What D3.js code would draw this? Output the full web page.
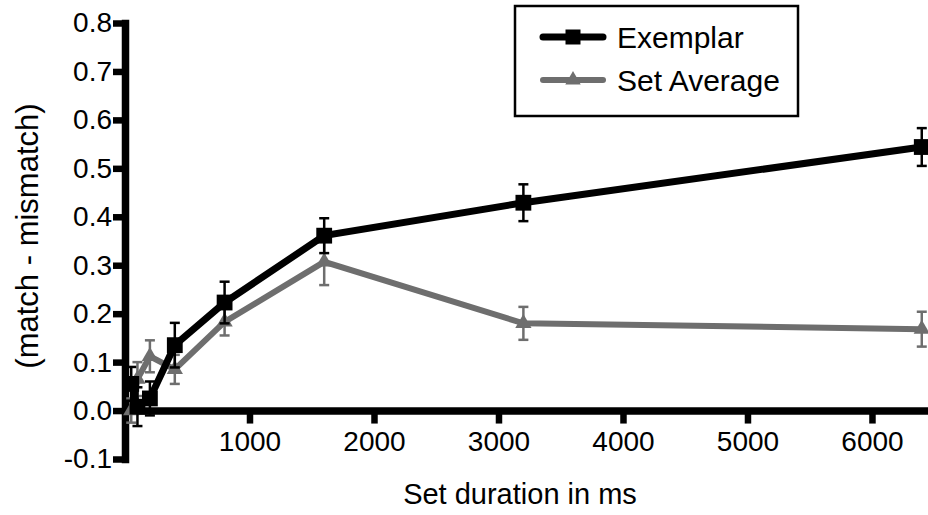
<!DOCTYPE html>
<html>
<head>
<meta charset="utf-8">
<script src="https://cdn.jsdelivr.net/npm/d3@7"></script>
<style>
  html, body { margin: 0; padding: 0; background: #fff; }
  svg { display: block; font-family: "Liberation Sans", Arial, Helvetica, sans-serif; }
</style>
</head>
<body>
<svg id="chart" width="928" height="515"></svg>
<script>
// ---- data ----
const durations = [50, 100, 200, 400, 800, 1600, 3200, 6400];
const exemplarMean = [0.055, 0.008, 0.025, 0.135, 0.223, 0.361, 0.429, 0.544];
const exemplarErr  = [0.035, 0.040, 0.035, 0.046, 0.043, 0.036, 0.038, 0.039];
const setAvgMean   = [0.000, 0.065, 0.112, 0.085, 0.183, 0.307, 0.180, 0.168];
const setAvgErr    = [0.025, 0.035, 0.033, 0.030, 0.028, 0.048, 0.034, 0.036];
const seriesNames  = ["Exemplar", "Set Average"];
const yTickValues  = [-0.1, 0.0, 0.1, 0.2, 0.3, 0.4, 0.5, 0.6, 0.7, 0.8];
const yTickLabels  = ["-0.1", "0.0", "0.1", "0.2", "0.3", "0.4", "0.5", "0.6", "0.7", "0.8"];
const xTickValues  = [1000, 2000, 3000, 4000, 5000, 6000];
const xTitle = "Set duration in ms";
const yTitle = "(match - mismatch)";

const svg = d3.select("#chart");
const x = d3.scaleLinear().domain([0, 6450]).range([125, 928]);
const y = d3.scaleLinear().domain([-0.1, 0.8]).range([459, 23]);

// ---- axes ----
const yAxis = d3.axisLeft(y).tickValues(yTickValues)
  .tickFormat((d, i) => yTickLabels[i]).tickSize(12).tickSizeOuter(0).tickPadding(1);
const gy = svg.append("g").attr("transform", `translate(${x(0)},0)`).call(yAxis);
gy.select(".domain").attr("stroke", "#000").attr("stroke-width", 7.5).attr("stroke-linecap", "square");
gy.selectAll(".tick line").attr("stroke", "#000").attr("stroke-width", 6.5);
gy.selectAll(".tick text").attr("font-size", 28).attr("fill", "#000")
  .attr("font-family", "Liberation Sans, Arial, sans-serif");

const xAxis = d3.axisBottom(x).tickValues(xTickValues).tickFormat(d3.format("d"))
  .tickSize(13).tickSizeOuter(0).tickPadding(8);
const gx = svg.append("g").attr("transform", `translate(0,${y(0)})`).call(xAxis);
gx.select(".domain").attr("stroke", "#000").attr("stroke-width", 7.5);
gx.selectAll(".tick line").attr("stroke", "#000").attr("stroke-width", 6.5);
gx.selectAll(".tick text").attr("font-size", 28).attr("fill", "#000")
  .attr("font-family", "Liberation Sans, Arial, sans-serif");

// titles
svg.append("text").attr("x", 520).attr("y", 504).attr("text-anchor", "middle")
  .attr("font-size", 29).attr("fill", "#000").text(xTitle);
svg.append("text").attr("transform", "translate(38,236) rotate(-90)")
  .attr("text-anchor", "middle").attr("font-size", 31).attr("fill", "#000").text(yTitle);

// ---- series ----
const series = [
  { name: seriesNames[1], mean: setAvgMean, err: setAvgErr, color: "#6e6e6e", width: 6, symbol: d3.symbolTriangle, size: 115 },
  { name: seriesNames[0], mean: exemplarMean, err: exemplarErr, color: "#000000", width: 7, symbol: d3.symbolSquare, size: 250 }
];

const line = d3.line().x(d => x(d.x)).y(d => y(d.y));

series.forEach(s => {
  const pts = durations.map((d, i) => ({ x: d, y: s.mean[i], e: s.err[i] }));
  const g = svg.append("g");
  // error bars
  const eb = g.selectAll(".eb").data(pts).enter().append("g");
  eb.append("line").attr("x1", d => x(d.x)).attr("x2", d => x(d.x))
    .attr("y1", d => y(d.y - d.e)).attr("y2", d => y(d.y + d.e))
    .attr("stroke", s.color).attr("stroke-width", 2.5);
  eb.append("line").attr("x1", d => x(d.x) - 5).attr("x2", d => x(d.x) + 5)
    .attr("y1", d => y(d.y + d.e)).attr("y2", d => y(d.y + d.e))
    .attr("stroke", s.color).attr("stroke-width", 2.5);
  eb.append("line").attr("x1", d => x(d.x) - 5).attr("x2", d => x(d.x) + 5)
    .attr("y1", d => y(d.y - d.e)).attr("y2", d => y(d.y - d.e))
    .attr("stroke", s.color).attr("stroke-width", 2.5);
  // line
  g.append("path").datum(pts).attr("d", line).attr("fill", "none")
    .attr("stroke", s.color).attr("stroke-width", s.width).attr("stroke-linejoin", "miter");
  // markers
  g.selectAll(".m").data(pts).enter().append("path")
    .attr("d", d3.symbol().type(s.symbol).size(s.size))
    .attr("transform", d => `translate(${x(d.x)},${y(d.y)})`)
    .attr("fill", s.color);
});

// ---- legend ----
const lg = svg.append("g");
lg.append("rect").attr("x", 515).attr("y", 6).attr("width", 283).attr("height", 110)
  .attr("fill", "#fff").attr("stroke", "#000").attr("stroke-width", 2.5);
const legendItems = [series[1], series[0]];
legendItems.forEach((s, i) => {
  const ly = 37 + i * 43;
  lg.append("line").attr("x1", 543).attr("x2", 603).attr("y1", ly).attr("y2", ly)
    .attr("stroke", s.color).attr("stroke-width", s.width).attr("stroke-linecap", "round");
  lg.append("path").attr("d", d3.symbol().type(s.symbol).size(s.size * 0.9))
    .attr("transform", `translate(573,${ly})`).attr("fill", s.color);
  lg.append("text").attr("x", 617).attr("y", ly + 11).attr("font-size", 30)
    .attr("fill", "#000").text(s.name);
});
</script>
</body>
</html>
